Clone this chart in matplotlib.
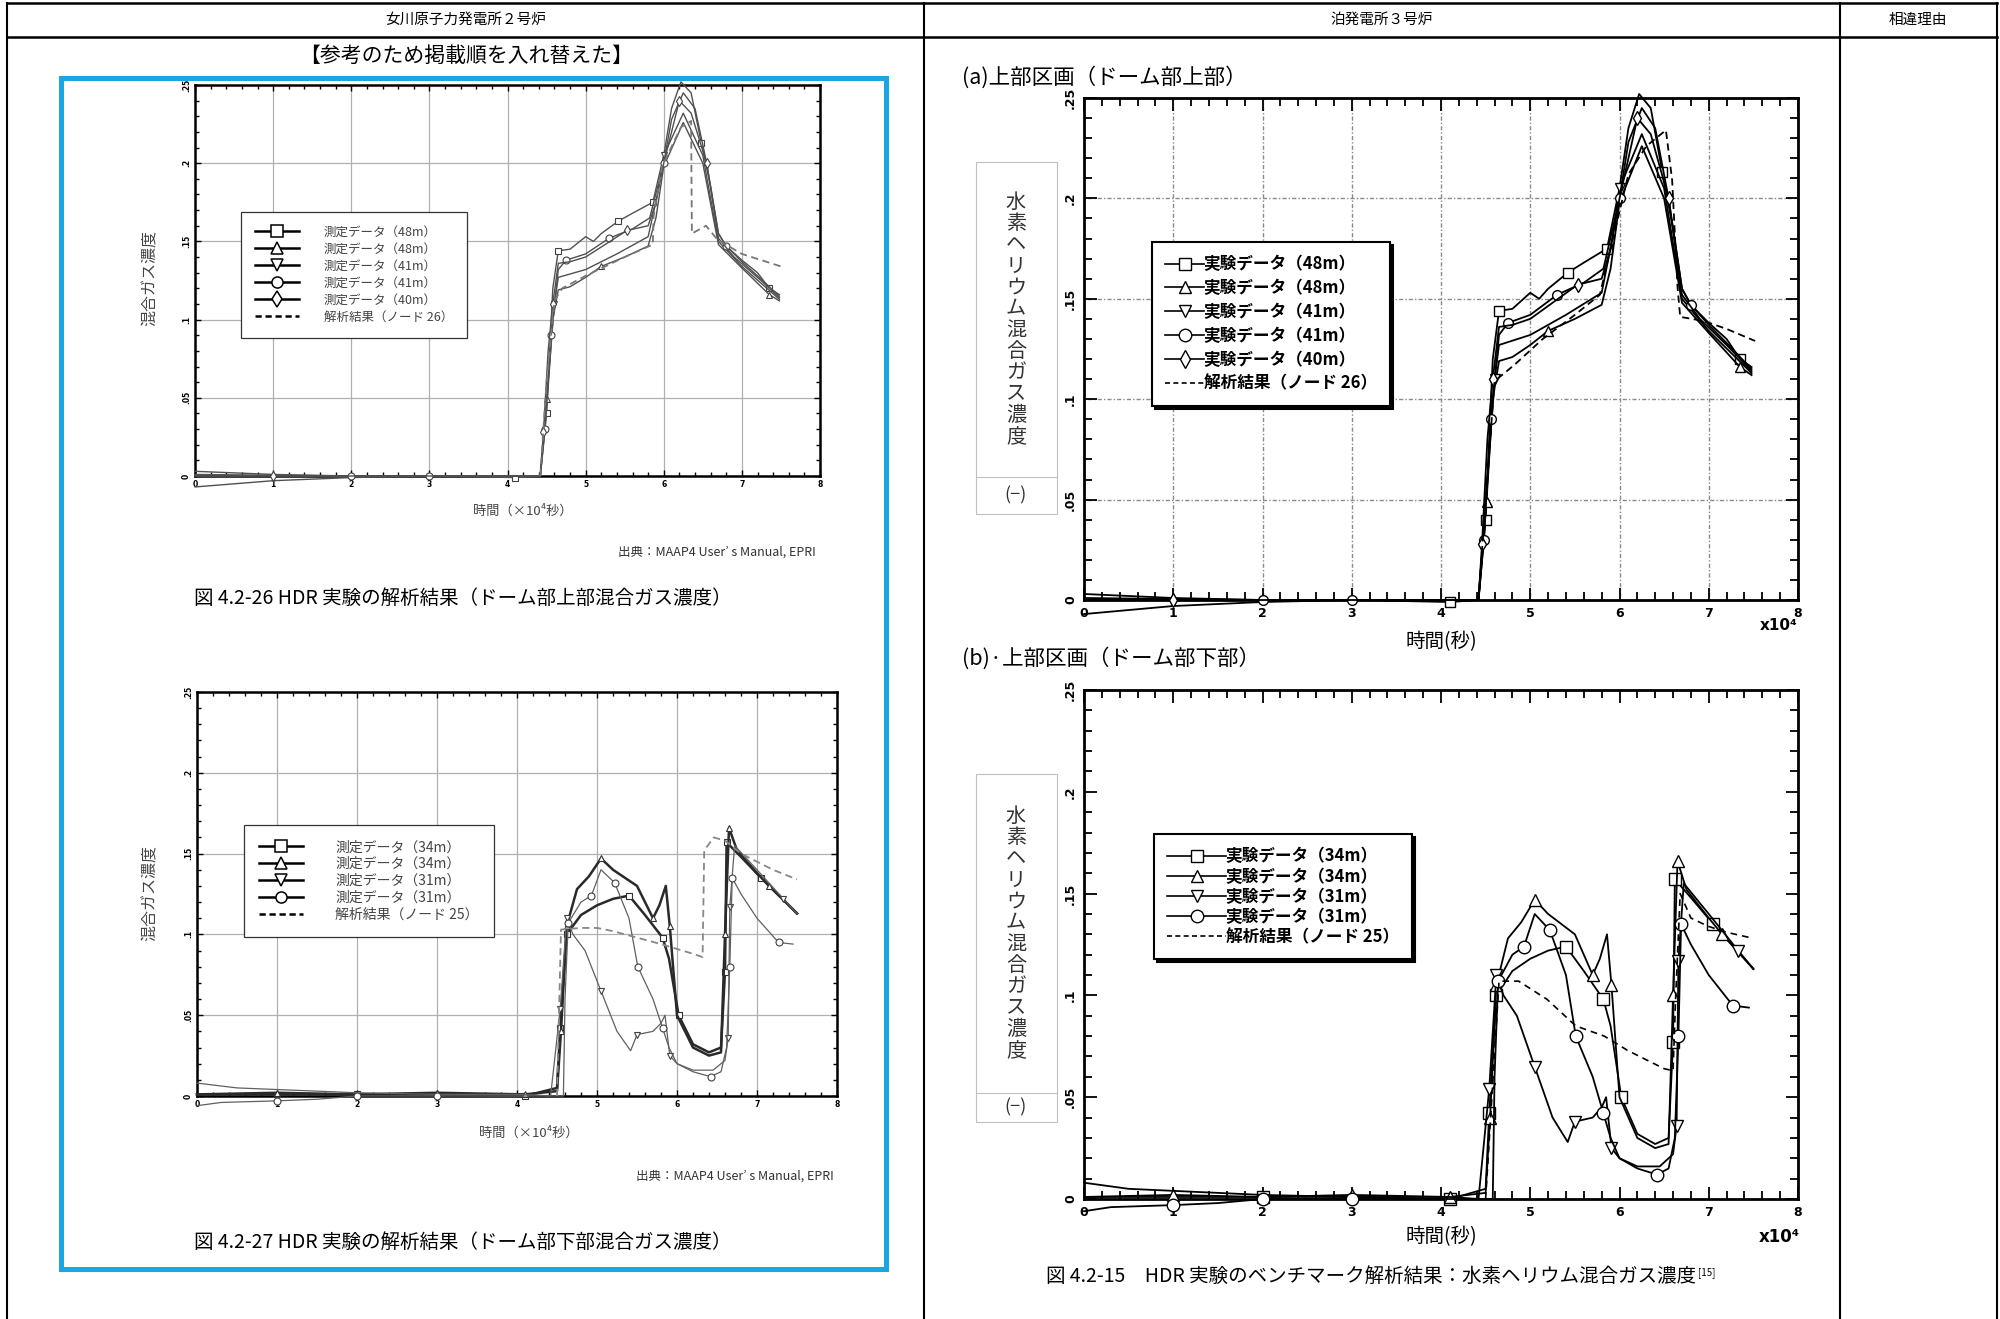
import matplotlib
matplotlib.use('Agg')
import matplotlib.pyplot as plt
from matplotlib.lines import Line2D
from matplotlib.patches import Rectangle
from matplotlib.ticker import MultipleLocator

plt.rcParams['font.family'] = ['Noto Sans CJK JP', 'DejaVu Sans']

W, H = 2000, 1319

# ---- upper dome (dome top) measured data, time in 1e4 s ----
up_t_sq = [0, 1, 2, 3, 4.1, 4.42, 4.5, 4.58, 4.65, 4.8, 5.0, 5.1, 5.2, 5.42, 5.6, 5.86, 6.0, 6.1, 6.22, 6.35, 6.48, 6.6, 6.7, 6.8, 7.0, 7.2, 7.35, 7.48]
up_c_sq = [0.001, 0.0005, 0, 0, -0.001, 0, 0.04, 0.12, 0.144, 0.145, 0.153, 0.15, 0.155, 0.163, 0.168, 0.175, 0.205, 0.235, 0.252, 0.245, 0.213, 0.185, 0.155, 0.147, 0.138, 0.13, 0.12, 0.116]
up_mk_sq = [4, 6, 8, 13, 15, 20, 26]

up_t_tr = [0, 1, 2, 3, 4.1, 4.42, 4.51, 4.58, 4.65, 4.8, 5.0, 5.2, 5.5, 5.8, 5.9, 6.0, 6.25, 6.5, 6.7, 7.0, 7.35, 7.48]
up_c_tr = [0, 0, 0, 0, 0, 0, 0.049, 0.1, 0.119, 0.121, 0.127, 0.134, 0.14, 0.147, 0.165, 0.198, 0.226, 0.2, 0.148, 0.133, 0.116, 0.112]
up_mk_tr = [6, 11, 20]

up_t_iv = [0, 1, 2, 3, 4.1, 4.42, 4.52, 4.6, 4.65, 5.0, 5.4, 5.8, 5.92, 6.0, 6.25, 6.5, 6.7, 7.0, 7.48]
up_c_iv = [-0.007, -0.003, -0.001, 0, 0, 0, 0.06, 0.11, 0.127, 0.132, 0.142, 0.153, 0.18, 0.205, 0.232, 0.205, 0.15, 0.134, 0.113]
up_mk_iv = [7, 13]

up_t_ci = [0, 1, 2, 3, 4.1, 4.42, 4.48, 4.56, 4.65, 4.75, 5.0, 5.3, 5.6, 5.82, 6.0, 6.1, 6.25, 6.4, 6.55, 6.7, 6.8, 7.0, 7.2, 7.48]
up_c_ci = [0.003, 0.001, 0, 0, 0, 0, 0.03, 0.09, 0.132, 0.138, 0.142, 0.152, 0.158, 0.165, 0.2, 0.228, 0.245, 0.235, 0.2, 0.155, 0.147, 0.137, 0.128, 0.115]
up_mk_ci = [2, 3, 6, 7, 9, 11, 14, 20]

up_t_di = [0, 1, 2, 3, 4.1, 4.42, 4.46, 4.52, 4.58, 4.65, 4.8, 5.0, 5.53, 5.8, 5.9, 6.0, 6.2, 6.35, 6.55, 6.7, 6.9, 7.2, 7.48]
up_c_di = [0, 0, 0, 0, 0, 0, 0.028, 0.08, 0.11, 0.136, 0.137, 0.14, 0.157, 0.16, 0.175, 0.2, 0.24, 0.232, 0.2, 0.152, 0.14, 0.127, 0.114]
up_mk_di = [1, 6, 8, 12, 16, 18]

# analysis (node 26), as reproduced in each document
up_t_calc_l = [4.42, 4.5, 4.6, 4.7, 5.0, 5.5, 5.86, 5.87, 5.98, 6.22, 6.35, 6.36, 6.54, 6.69, 7.0, 7.5]
up_c_calc_l = [0, 0.06, 0.112, 0.12, 0.128, 0.14, 0.148, 0.166, 0.198, 0.223, 0.227, 0.155, 0.16, 0.151, 0.142, 0.134]
up_t_calc_r = [4.42, 4.5, 4.6, 4.82, 5.14, 5.5, 5.78, 5.9, 6.1, 6.3, 6.52, 6.59, 6.65, 6.68, 6.94, 7.2, 7.52]
up_c_calc_r = [0, 0.05, 0.109, 0.117, 0.13, 0.142, 0.152, 0.175, 0.212, 0.226, 0.234, 0.209, 0.156, 0.141, 0.139, 0.135, 0.129]

up_labels_l = ['測定データ（48m）', '測定データ（48m）', '測定データ（41m）', '測定データ（41m）', '測定データ（40m）', '解析結果（ノード 26）']
up_labels_r = ['実験データ（48m）', '実験データ（48m）', '実験データ（41m）', '実験データ（41m）', '実験データ（40m）', '解析結果（ノード 26）']

# ---- lower dome (dome bottom) measured data ----
lo_t_sq = [0, 1, 2, 3, 4.1, 4.5, 4.54, 4.62, 4.8, 5.0, 5.2, 5.4, 5.6, 5.82, 5.9, 6.02, 6.2, 6.4, 6.55, 6.6, 6.62, 6.8, 7.05, 7.3, 7.5]
lo_c_sq = [0.001, 0.001, 0.001, 0.001, 0.0, 0.005, 0.042, 0.1, 0.112, 0.118, 0.122, 0.124, 0.112, 0.098, 0.085, 0.05, 0.032, 0.027, 0.03, 0.077, 0.157, 0.148, 0.135, 0.123, 0.113]
lo_mk_sq = [2, 4, 6, 7, 11, 13, 15, 19, 20, 22]

lo_t_tr = [0, 1, 2, 3, 4.1, 4.5, 4.55, 4.62, 4.75, 4.9, 5.05, 5.2, 5.5, 5.7, 5.78, 5.86, 5.91, 6.0, 6.2, 6.4, 6.55, 6.6, 6.65, 6.75, 7.0, 7.15, 7.5]
lo_c_tr = [0.001, 0.002, 0.001, 0.002, 0.001, 0.003, 0.04, 0.105, 0.128, 0.136, 0.147, 0.14, 0.13, 0.11, 0.118, 0.13, 0.105, 0.05, 0.03, 0.025, 0.027, 0.1, 0.166, 0.152, 0.138, 0.13, 0.113]
lo_mk_tr = [1, 3, 4, 6, 7, 10, 13, 16, 21, 22, 25]

lo_t_iv = [0, 0.5, 1, 1.5, 2, 3, 4.1, 4.42, 4.54, 4.62, 4.7, 4.85, 5.05, 5.25, 5.42, 5.5, 5.7, 5.8, 5.85, 5.91, 6.0, 6.2, 6.45, 6.6, 6.64, 6.66, 6.72, 7.0, 7.33, 7.5]
lo_c_iv = [0.008, 0.005, 0.004, 0.003, 0.002, 0.001, 0.001, 0.0, 0.054, 0.11, 0.1, 0.09, 0.065, 0.04, 0.028, 0.038, 0.04, 0.045, 0.05, 0.025, 0.02, 0.016, 0.016, 0.022, 0.036, 0.117, 0.155, 0.14, 0.122, 0.113]
lo_mk_iv = [8, 9, 12, 15, 19, 24, 25, 28]

lo_t_ci = [0, 0.3, 1, 1.5, 2, 3, 4.1, 4.58, 4.6, 4.64, 4.8, 4.93, 5.05, 5.22, 5.4, 5.51, 5.7, 5.82, 5.9, 6.0, 6.2, 6.42, 6.55, 6.62, 6.66, 6.69, 6.8, 7.0, 7.27, 7.45]
lo_c_ci = [-0.006, -0.004, -0.003, -0.002, 0.0, 0.0, 0.0, 0.0, 0.06, 0.107, 0.12, 0.124, 0.14, 0.132, 0.11, 0.08, 0.06, 0.042, 0.03, 0.02, 0.015, 0.012, 0.015, 0.03, 0.08, 0.135, 0.125, 0.11, 0.095, 0.094]
lo_mk_ci = [2, 4, 5, 9, 11, 13, 15, 17, 21, 24, 25, 28]

# analysis (node 25)
lo_t_calc_l = [4.5, 4.55, 4.8, 5.0, 5.2, 5.5, 5.8, 6.0, 6.2, 6.32, 6.34, 6.46, 6.6, 6.8, 7.0, 7.2, 7.5]
lo_c_calc_l = [0.0, 0.103, 0.104, 0.104, 0.102, 0.098, 0.094, 0.091, 0.088, 0.086, 0.152, 0.16, 0.158, 0.15, 0.145, 0.14, 0.134]
lo_t_calc_r = [4.5, 4.65, 4.87, 5.19, 5.51, 5.83, 6.09, 6.5, 6.6, 6.63, 6.68, 6.8, 6.99, 7.2, 7.5]
lo_c_calc_r = [0.0, 0.107, 0.107, 0.098, 0.085, 0.08, 0.073, 0.064, 0.063, 0.1, 0.15, 0.138, 0.134, 0.131, 0.128]

lo_labels_l = ['測定データ（34m）', '測定データ（34m）', '測定データ（31m）', '測定データ（31m）', '解析結果（ノード 25）']
lo_labels_r = ['実験データ（34m）', '実験データ（34m）', '実験データ（31m）', '実験データ（31m）', '解析結果（ノード 25）']

y_ticks = [0, 0.05, 0.1, 0.15, 0.2, 0.25]
y_ticklabels = ['0', '.05', '.1', '.15', '.2', '.25']
x_ticks = [0, 1, 2, 3, 4, 5, 6, 7, 8]

fig = plt.figure(figsize=(W / 100, H / 100), dpi=100)

# page overlay in pixel coordinates for the table frame
page = fig.add_axes([0, 0, 1, 1])
page.set_xlim(0, W)
page.set_ylim(H, 0)
page.axis('off')


def px_axes(l, t, r, b):
    return fig.add_axes([l / W, 1 - b / H, (r - l) / W, (b - t) / H])


def ftext(x, y, s, **kw):
    kw.setdefault('ha', 'center')
    kw.setdefault('va', 'center')
    return fig.text(x / W, 1 - y / H, s, **kw)


# table lines
for y in (3, 37):
    page.plot([7, 1997], [y, y], color='black', lw=1.8)
for x in (7, 924, 1840, 1997):
    page.plot([x, x], [3, H], color='black', lw=1.5)
page.add_patch(Rectangle((61, 78), 825, 1191, fill=False, ec='#1AA7E1', lw=3.6))

ftext(466, 20, '女川原子力発電所２号炉', fontsize=10.5)
ftext(1382, 20, '泊発電所３号炉', fontsize=10.5)
ftext(1918, 20, '相違理由', fontsize=10.5)
ftext(466, 56, '【参考のため掲載順を入れ替えた】', fontsize=15)


def style_axes(ax, left_doc):
    ax.set_xlim(0, 8)
    ax.set_ylim(0, 0.25)
    ax.xaxis.set_minor_locator(MultipleLocator(0.2))
    ax.yaxis.set_minor_locator(MultipleLocator(0.01))
    if left_doc:
        fs, maj, mnr, w, pad, sw = 5.5, 4, 3, 1.0, 3, 1.8
    else:
        fs, maj, mnr, w, pad, sw = 9, 9, 6, 1.3, 5, 2.0
    ax.set_xticks(x_ticks, [str(v) for v in x_ticks], fontsize=fs, fontweight='bold', family='DejaVu Sans')
    ax.set_yticks(y_ticks, y_ticklabels, fontsize=fs, fontweight='bold', family='DejaVu Sans',
                  rotation=90, va='center')
    ax.tick_params(which='both', direction='in', top=True, right=True, width=w, pad=pad)
    ax.tick_params(which='major', length=maj)
    ax.tick_params(which='minor', length=mnr)
    for sp in ax.spines.values():
        sp.set_linewidth(sw)


def series(ax, t, c, marker, mk, lw, color, ms, mew, mec):
    ax.plot(t, c, color=color, lw=lw, marker=marker, markevery=mk, ms=ms, mfc='white',
            mec=mec, mew=mew, clip_on=False, zorder=3)


up_sets = [(up_t_sq, up_c_sq, 's', up_mk_sq), (up_t_tr, up_c_tr, '^', up_mk_tr),
           (up_t_iv, up_c_iv, 'v', up_mk_iv), (up_t_ci, up_c_ci, 'o', up_mk_ci),
           (up_t_di, up_c_di, 'd', up_mk_di)]
lo_sets = [(lo_t_sq, lo_c_sq, 's', lo_mk_sq), (lo_t_tr, lo_c_tr, '^', lo_mk_tr),
           (lo_t_iv, lo_c_iv, 'v', lo_mk_iv), (lo_t_ci, lo_c_ci, 'o', lo_mk_ci)]


def legend_left(ax, sets, labels, anchor, fs, spacing, hpad):
    hs = [Line2D([], [], color='black', lw=1.8, marker=m, ms=8, mfc='white', mec='black', mew=1.1)
          for (_, _, m, _) in sets]
    hs.append(Line2D([], [], color='black', lw=1.8, ls=(0, (2.5, 1.5))))
    leg = ax.legend(hs, labels, loc='upper left', bbox_to_anchor=(anchor[0] / W, 1 - anchor[1] / H),
                    bbox_transform=fig.transFigure, borderaxespad=0, frameon=True, fancybox=False,
                    framealpha=1, edgecolor='#333', fontsize=fs, handlelength=3.5 * 9 / fs,
                    handletextpad=hpad, labelspacing=spacing, borderpad=1.1, labelcolor='#444')
    leg.get_frame().set_linewidth(0.9)
    leg.set_zorder(5)


def legend_right(ax, sets, labels, anchor, fs, spacing, hlen):
    hs = [Line2D([], [], color='black', lw=1.2, marker=m, ms=9, mfc='white', mec='black', mew=1.0)
          for (_, _, m, _) in sets]
    hs.append(Line2D([], [], color='black', lw=1.2, ls=(0, (3, 2))))
    leg = ax.legend(hs, labels, loc='upper left', bbox_to_anchor=(anchor[0] / W, 1 - anchor[1] / H),
                    bbox_transform=fig.transFigure, borderaxespad=0, frameon=True, fancybox=False,
                    framealpha=1, edgecolor='black', handlelength=hlen, handletextpad=0.0,
                    labelspacing=spacing, borderpad=0.8, shadow={'color': 'black', 'alpha': 1.0},
                    prop={'weight': 'bold', 'size': fs})
    leg.get_frame().set_linewidth(1.5)
    leg.set_zorder(5)


# ---------- chart 1: left top ----------
ax1 = px_axes(195, 85, 820, 476)
style_axes(ax1, True)
ax1.grid(True, which='major', color='#b0b0b0', lw=0.9)
for t, c, m, mk in up_sets:
    series(ax1, t, c, m, mk, 1.0, '#505050', 5, 0.8, '#404040')
ax1.plot(up_t_calc_l, up_c_calc_l, color='#777', lw=1.3, ls=(0, (4, 2.5)), clip_on=False, zorder=3)
legend_left(ax1, up_sets, up_labels_l, (241, 212), 9, 0.32, 2.0)
ftext(150, 278, '混合ガス濃度', rotation=90, fontsize=11.5, color='#444')
ftext(523, 511, '時間（×10⁴秒）', fontsize=9.5, color='#444')
ftext(816, 552, '出典：MAAP4 User’ s Manual, EPRI', ha='right', fontsize=9, color='#333')
ftext(194, 598, '図 4.2-26 HDR 実験の解析結果（ドーム部上部混合ガス濃度）', ha='left', fontsize=14)

# ---------- chart 2: left bottom ----------
ax2 = px_axes(197, 692, 837, 1096)
style_axes(ax2, True)
ax2.grid(True, which='major', color='#b0b0b0', lw=0.9)
for i, (t, c, m, mk) in enumerate(lo_sets):
    if i < 2:
        series(ax2, t, c, m, mk, 1.8, '#2a2a2a', 5, 0.8, '#303030')
    else:
        series(ax2, t, c, m, mk, 0.9, '#606060', 5, 0.8, '#404040')
ax2.plot(lo_t_calc_l, lo_c_calc_l, color='#888', lw=1.3, ls=(0, (4, 2.5)), clip_on=False, zorder=3)
legend_left(ax2, lo_sets, lo_labels_l, (244, 825), 10, 0.2, 2.3)
ftext(150, 893, '混合ガス濃度', rotation=90, fontsize=11.5, color='#444')
ftext(529, 1133, '時間（×10⁴秒）', fontsize=9.5, color='#444')
ftext(834, 1176, '出典：MAAP4 User’ s Manual, EPRI', ha='right', fontsize=9, color='#333')
ftext(194, 1242, '図 4.2-27 HDR 実験の解析結果（ドーム部下部混合ガス濃度）', ha='left', fontsize=14)

# ---------- chart 3: right top ----------
ax3 = px_axes(1084, 98, 1798, 600)
style_axes(ax3, False)
ax3.grid(True, which='major', color='#8a8a8a', lw=1.0, ls=(0, (1, 1.5, 3, 1.5)))
for t, c, m, mk in up_sets:
    series(ax3, t, c, m, mk, 1.3, 'black', 7, 1.0, 'black')
ax3.plot(up_t_calc_r, up_c_calc_r, color='black', lw=1.3, ls=(0, (4, 2.5)), clip_on=False, zorder=3)
legend_right(ax3, up_sets, up_labels_r, (1152, 242), 12, 0.35, 2.3)
ftext(962, 77, '(a)上部区画（ドーム部上部）', ha='left', fontsize=15.5)
ftext(1441, 642, '時間(秒)', fontsize=14)
ftext(1779, 626, 'x10⁴', fontsize=11, fontweight='bold', family='DejaVu Sans')

# ---------- chart 4: right bottom ----------
ax4 = px_axes(1084, 690, 1798, 1199)
style_axes(ax4, False)
for t, c, m, mk in lo_sets:
    series(ax4, t, c, m, mk, 1.3, 'black', 9, 1.0, 'black')
ax4.plot(lo_t_calc_r, lo_c_calc_r, color='black', lw=1.2, ls=(0, (4, 3)), clip_on=False, zorder=3)
legend_right(ax4, lo_sets, lo_labels_r, (1154, 834), 12, 0.13, 3.5)
ftext(962, 658, '(b)·上部区画（ドーム部下部）', ha='left', fontsize=15.5)
ftext(1441, 1237, '時間(秒)', fontsize=14)
ftext(1779, 1237, 'x10⁴', fontsize=12, fontweight='bold', family='DejaVu Sans')
cap = ftext(1046, 1276, '図 4.2-15　HDR 実験のベンチマーク解析結果：水素ヘリウム混合ガス濃度', ha='left', fontsize=14)

# y-label boxes on the right document
for top, mid, bot in ((162, 477, 514), (774, 1093, 1122)):
    page.add_patch(Rectangle((976, top), 81, bot - top, fill=False, ec='#c0c0c0', lw=0.8))
    page.plot([976, 1057], [mid, mid], color='#c0c0c0', lw=0.8)
    ftext(1016, (top + mid) / 2, '\n'.join('水素ヘリウム混合ガス濃度'), fontsize=14.5,
          linespacing=1.02, color='#333')
    ftext(1016, (mid + bot) / 2, '(−)', fontsize=13, color='#333')

fig.canvas.draw()
bb = cap.get_window_extent()
fig.text((bb.x1 + 2) / W, (bb.y1 - 2) / H, '[15]', fontsize=7, ha='left', va='top')

fig.savefig('out.png', dpi=100)
